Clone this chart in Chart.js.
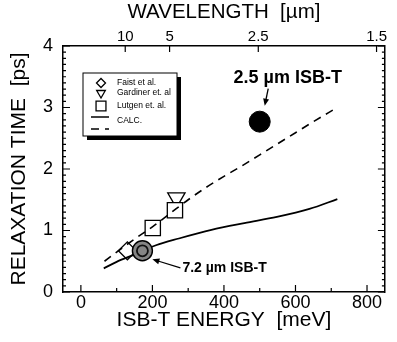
<!DOCTYPE html>
<html lang="en">
<head>
<meta charset="UTF-8">
<title>ISB-T Relaxation Time</title>
<script src="https://cdn.jsdelivr.net/npm/chart.js"></script>
<style>
  html, body { margin: 0; padding: 0; background: #fff; }
  canvas { display: block; }
</style>
</head>
<body>
<canvas id="chart" width="397" height="342"></canvas>
<script>
  // calculated relaxation times (energy in meV, time in ps)
  const calcSolidE = [64, 100, 146, 210, 274, 365, 457, 548, 639, 717];
  const calcSolidT = [0.385, 0.49, 0.60, 0.76, 0.87, 1.01, 1.12, 1.22, 1.35, 1.51];
  const calcDashE = [66, 100, 150, 200, 250, 300, 350, 400, 450, 500, 550, 600, 650, 714];
  const calcDashT = [0.50, 0.65, 0.86, 1.06, 1.28, 1.50, 1.70, 1.88, 2.05, 2.23, 2.41, 2.59, 2.77, 2.99];

  // measured points
  const faistE = [130];
  const faistT = [0.67];
  const gardinerE = [267];
  const gardinerT = [1.53];
  const lutgenE = [201, 263];
  const lutgenT = [1.04, 1.33];
  const isb72E = [172];
  const isb72T = [0.67];
  const isb25E = [500];
  const isb25T = [2.77];

  // axes
  const energyTicks = [0, 200, 400, 600, 800];
  const timeTicks = [0, 1, 2, 3, 4];
  const wavelengthTicks = [10, 5, 2.5, 1.5]; // µm, E[meV] = 1240 / λ

  const FONT = "'Liberation Sans', Arial, sans-serif";
  const pts = (xs, ys) => xs.map((x, i) => ({ x, y: ys[i] }));

  function drawArrow(ctx, x1, y1, x2, y2) {
    const ang = Math.atan2(y2 - y1, x2 - x1);
    ctx.beginPath();
    ctx.moveTo(x1, y1);
    ctx.lineTo(x2 - 5 * Math.cos(ang), y2 - 5 * Math.sin(ang));
    ctx.stroke();
    ctx.beginPath();
    ctx.moveTo(x2, y2);
    ctx.lineTo(x2 - 7 * Math.cos(ang) + 3 * Math.sin(ang), y2 - 7 * Math.sin(ang) - 3 * Math.cos(ang));
    ctx.lineTo(x2 - 7 * Math.cos(ang) - 3 * Math.sin(ang), y2 - 7 * Math.sin(ang) + 3 * Math.cos(ang));
    ctx.closePath();
    ctx.fill();
  }

  // inward tick marks on all four sides
  function drawTicks(chart) {
    const { ctx, chartArea: a, scales } = chart;
    ctx.save();
    ctx.strokeStyle = '#000';
    ctx.lineWidth = 1.2;
    ctx.beginPath();
    for (let i = 0; i <= 40; i++) {
      const py = scales.y.getPixelForValue(i / 10);
      const len = i % 10 === 0 ? 7 : 3;
      ctx.moveTo(a.left, py); ctx.lineTo(a.left + len, py);
      ctx.moveTo(a.right, py); ctx.lineTo(a.right - len, py);
    }
    for (let v = 0; v <= 800; v += 100) {
      const px = scales.x.getPixelForValue(v);
      const len = v % 200 === 0 ? 7 : 4;
      ctx.moveTo(px, a.bottom); ctx.lineTo(px, a.bottom - len);
    }
    wavelengthTicks.forEach(l => {
      const px = scales.x2.getPixelForValue(1240 / l);
      ctx.moveTo(px, a.top); ctx.lineTo(px, a.top + 6);
    });
    ctx.stroke();
    ctx.restore();
  }

  function drawLegend(chart) {
    const { ctx, chartArea: a } = chart;
    const ds = chart.data.datasets;
    const x = a.left + 20, y = a.top + 27, w = 94, h = 63;
    ctx.save();
    ctx.fillStyle = '#000';
    ctx.fillRect(x + 4, y + 4, w, h);
    ctx.fillStyle = '#fff';
    ctx.fillRect(x, y, w, h);
    ctx.strokeStyle = '#000';
    ctx.lineWidth = 1;
    ctx.strokeRect(x, y, w, h);

    const rows = [
      { d: ds[2], r: 4.5, dy: 10 },
      { d: ds[3], r: 5, dy: 20 },
      { d: ds[4], r: 7, dy: 33 }
    ];
    ctx.font = '8.5px ' + FONT;
    ctx.textBaseline = 'middle';
    rows.forEach(row => {
      ctx.fillStyle = '#fff';
      ctx.strokeStyle = '#000';
      ctx.lineWidth = 1.3;
      Chart.helpers.drawPoint(ctx, {
        pointStyle: row.d.pointStyle, rotation: row.d.rotation || 0,
        radius: row.r, borderWidth: 1.3
      }, x + 18, y + row.dy);
      ctx.fillStyle = '#000';
      ctx.fillText(row.d.label, x + 34, y + row.dy);
    });
    ctx.lineWidth = 1.5;
    ctx.beginPath();
    ctx.moveTo(x + 8, y + 44); ctx.lineTo(x + 26, y + 44);
    ctx.stroke();
    ctx.setLineDash(ds[1].borderDash);
    ctx.beginPath();
    ctx.moveTo(x + 8, y + 56); ctx.lineTo(x + 26, y + 56);
    ctx.stroke();
    ctx.setLineDash([]);
    ctx.fillText('CALC.', x + 34, y + 48);
    ctx.restore();
  }

  function drawNotes(chart) {
    const { ctx, scales } = chart;
    ctx.save();
    ctx.fillStyle = '#000';
    ctx.strokeStyle = '#000';
    ctx.lineWidth = 1.3;

    const bx = scales.x.getPixelForValue(isb25E[0]);
    const by = scales.y.getPixelForValue(isb25T[0]);
    ctx.font = 'bold 18px ' + FONT;
    ctx.textAlign = 'center';
    ctx.textBaseline = 'middle';
    ctx.fillText('2.5 µm ISB-T', bx + 28, by - 44);
    drawArrow(ctx, bx + 8.5, by - 33, bx + 5, by - 16);

    const gx = scales.x.getPixelForValue(isb72E[0]);
    const gy = scales.y.getPixelForValue(isb72T[0]);
    ctx.font = 'bold 14px ' + FONT;
    ctx.textAlign = 'left';
    ctx.fillText('7.2 µm ISB-T', gx + 40, gy + 17);
    drawArrow(ctx, gx + 38, gy + 17, gx + 10, gy + 8.5);
    ctx.restore();
  }

  const decorations = {
    id: 'decorations',
    afterDraw(chart) {
      drawTicks(chart);
      drawLegend(chart);
      drawNotes(chart);
    }
  };

  const axisBorder = { display: true, color: '#000', width: 1.5 };
  const noGrid = { display: false, drawTicks: false };

  new Chart(document.getElementById('chart'), {
    type: 'scatter',
    data: {
      datasets: [
        {
          label: 'CALC.', data: pts(calcSolidE, calcSolidT), showLine: true,
          borderColor: '#000', borderWidth: 1.8, pointRadius: 0,
          cubicInterpolationMode: 'monotone', order: 2
        },
        {
          label: 'CALC. (dashed)', data: pts(calcDashE, calcDashT), showLine: true,
          borderColor: '#000', borderWidth: 1.6, borderDash: [8, 6], pointRadius: 0,
          cubicInterpolationMode: 'monotone', order: 2
        },
        {
          label: 'Faist et al.', data: pts(faistE, faistT), pointStyle: 'rectRot',
          pointRadius: 9, backgroundColor: '#fff', borderColor: '#000', borderWidth: 1.3, order: 3
        },
        {
          label: 'Gardiner et. al', data: pts(gardinerE, gardinerT), pointStyle: 'triangle',
          rotation: 180, pointRadius: 10, backgroundColor: '#fff', borderColor: '#000',
          borderWidth: 1.3, order: 4
        },
        {
          label: 'Lutgen et. al.', data: pts(lutgenE, lutgenT), pointStyle: 'rect',
          pointRadius: 10.8, backgroundColor: '#fff', borderColor: '#000', borderWidth: 1.3, order: 3
        },
        {
          label: '7.2 µm ISB-T', data: pts(isb72E, isb72T), pointStyle: 'circle',
          pointRadius: 10, backgroundColor: '#858585', borderColor: '#000', borderWidth: 1.4, order: 1
        },
        {
          label: '7.2 µm ISB-T (ring)', data: pts(isb72E, isb72T), pointStyle: 'circle',
          pointRadius: 5.5, backgroundColor: '#858585', borderColor: '#111', borderWidth: 1.8, order: 0
        },
        {
          label: '2.5 µm ISB-T', data: pts(isb25E, isb25T), pointStyle: 'circle',
          pointRadius: 10.5, backgroundColor: '#000', borderColor: '#000', borderWidth: 1, order: 1
        }
      ]
    },
    options: {
      responsive: false,
      animation: false,
      events: [],
      devicePixelRatio: 1,
      layout: { padding: 0 },
      plugins: { legend: { display: false }, tooltip: { enabled: false } },
      scales: {
        x: {
          type: 'linear', position: 'bottom', min: -50, max: 850,
          afterBuildTicks: s => { s.ticks = energyTicks.map(v => ({ value: v })); },
          afterFit: s => { s.height = 50; },
          grid: noGrid, border: axisBorder,
          ticks: { color: '#000', font: { family: FONT, size: 18 }, padding: 0, maxRotation: 0, autoSkip: false },
          title: {
            display: true, text: 'ISB-T ENERGY  [meV]', color: '#000',
            font: { family: FONT, size: 21 }, padding: { top: 0, bottom: 9 }
          }
        },
        x2: {
          type: 'linear', position: 'top', min: -50, max: 850,
          afterBuildTicks: s => { s.ticks = wavelengthTicks.map(l => ({ value: 1240 / l })); },
          afterFit: s => { s.height = 46; },
          grid: noGrid, border: axisBorder,
          ticks: {
            color: '#000', font: { family: FONT, size: 15 }, padding: 0, maxRotation: 0, autoSkip: false,
            callback: v => String(Math.round(12400 / v) / 10)
          },
          title: {
            display: true, text: 'WAVELENGTH  [µm]', color: '#000',
            font: { family: FONT, size: 20.5 }, padding: { top: 0, bottom: 0 }
          }
        },
        y: {
          type: 'linear', position: 'left', min: 0, max: 4,
          afterBuildTicks: s => { s.ticks = timeTicks.map(v => ({ value: v })); },
          afterFit: s => { s.width = 63; },
          grid: noGrid, border: axisBorder,
          ticks: { color: '#000', font: { family: FONT, size: 18 }, padding: 10 },
          title: {
            display: true, text: 'RELAXATION TIME  [ps]', color: '#000',
            font: { family: FONT, size: 21 }, padding: { top: 7, bottom: 0 }
          }
        },
        y2: {
          type: 'linear', position: 'right', min: 0, max: 4,
          afterFit: s => { s.width = 7; },
          grid: noGrid, border: axisBorder,
          ticks: { display: false }
        }
      }
    },
    plugins: [decorations]
  });
</script>
</body>
</html>
